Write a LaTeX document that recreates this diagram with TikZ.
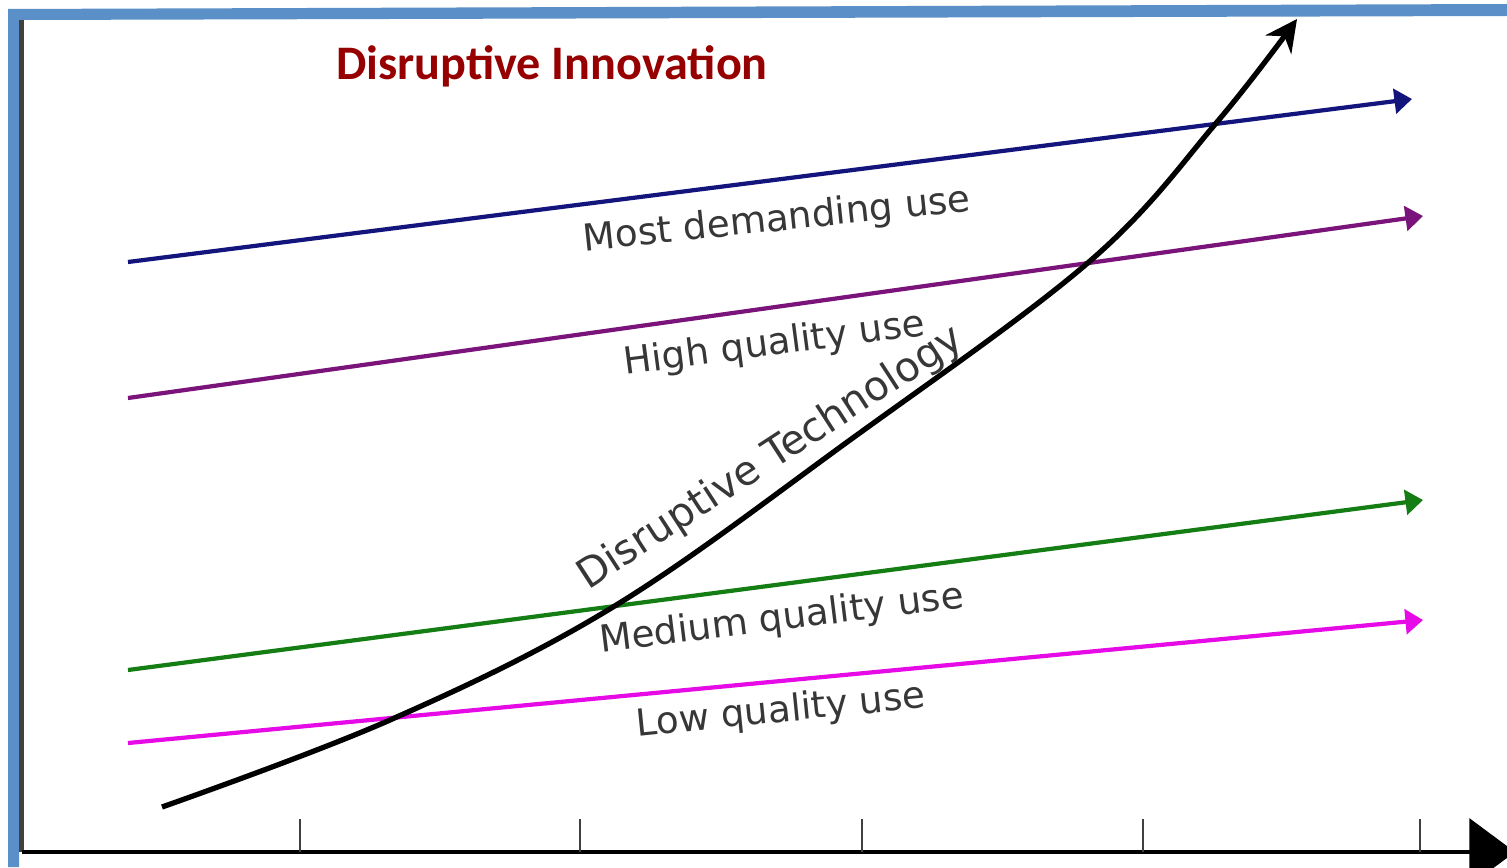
\documentclass[tikz,border=0pt]{standalone}
\usepackage{fontspec}
\setmainfont{DejaVu Sans}
\newfontfamily\titlefont{Carlito}
\usetikzlibrary{arrows.meta,positioning}

\definecolor{framebl}{RGB}{91,143,199}
\definecolor{titlered}{RGB}{150,0,0}
\definecolor{labgray}{RGB}{55,55,55}
\definecolor{mostcol}{RGB}{20,20,125}
\definecolor{highcol}{RGB}{122,20,122}
\definecolor{medcol}{RGB}{20,125,20}
\definecolor{lowcol}{RGB}{230,10,230}

\begin{document}
\begin{tikzpicture}[x=0.01cm,y=-0.01cm,
  useline/.style={line width=1.2pt,-{Triangle[length=5pt,width=7pt]}},
  uselabel/.style={anchor=base,inner sep=0pt,text=labgray,font=\fontsize{10.6}{12}\selectfont},
  tick/.style={line width=0.8pt,black!75}]
\useasboundingbox (0,0) rectangle (1507,867);

% frame
\fill[framebl] (8,9) -- (1507,4) -- (1507,16) -- (19,20) -- (19,867) -- (8,867) -- cycle;

% axes
\coordinate (yaxtop) at (21.5,20);
\coordinate (orig) at (21.5,852);
\coordinate (xaxend) at (1515,852);
\draw[line width=1.2pt,black!75] (yaxtop) -- (orig);
\draw[line width=1.2pt,-{Triangle[length=13pt,width=19pt]}] (orig) -- (xaxend);

\draw[tick] (300,852) -- (300,819);
\draw[tick] (580,852) -- (580,819);
\draw[tick] (862,852) -- (862,819);
\draw[tick] (1143,852) -- (1143,819);
\draw[tick] (1420,852) -- (1420,819);

% title
\node[titlered,anchor=base,inner sep=0pt,font=\titlefont\bfseries\fontsize{13.7}{15}\selectfont] (title) at (552,80) {Disruptive Innovation};

% market demand lines
\coordinate (mostL) at (128,262);
\coordinate (mostR) at (1412,99);
\coordinate (highL) at (128,398);
\coordinate (highR) at (1423,216);
\coordinate (medL) at (128,670);
\coordinate (medR) at (1423,500);
\coordinate (lowL) at (128,743);
\coordinate (lowR) at (1423,620);

\draw[useline,mostcol] (mostL) -- (mostR);
\draw[useline,highcol] (highL) -- (highR);
\draw[useline,medcol] (medL) -- (medR);
\draw[useline,lowcol] (lowL) -- (lowR);

\node[uselabel,rotate=6] (most) at (778,231) {Most demanding use};
\node[uselabel,rotate=7.5] (high) at (776,355) {High quality use};
\node[uselabel,rotate=7] (med) at (783,630) {Medium quality use};
\node[uselabel,rotate=5.7] (low) at (782,722) {Low quality use};

% technology curve
\coordinate (techS) at (162,807);
\coordinate (techE) at (1297,19);
\draw[line width=1.5pt,-{Stealth[length=9pt,width=9pt]}] plot[smooth,tension=0.6]
  coordinates {(techS) (390,720) (613,607) (850,440) (1090,261) (1217,122) (techE)};

\node[uselabel,rotate=33,font=\fontsize{11.6}{13}\selectfont] (tech) at (777,468) {Disruptive Technology};

\end{tikzpicture}
\end{document}
